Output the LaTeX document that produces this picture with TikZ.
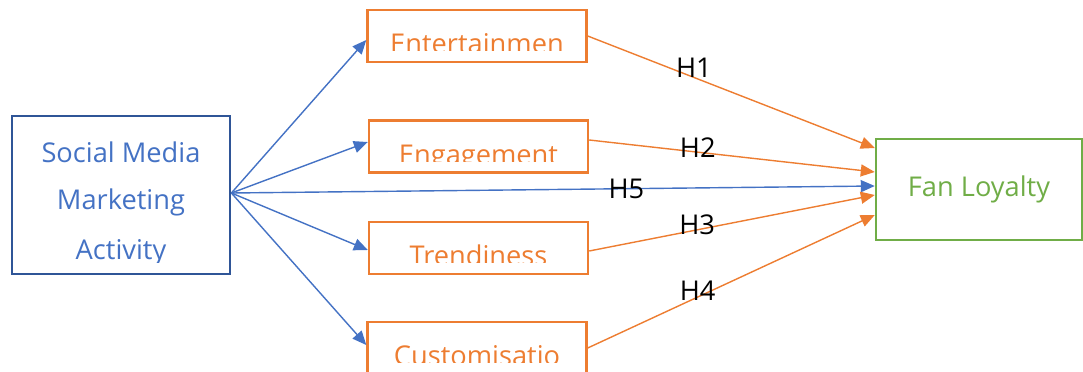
\documentclass[tikz,border=0pt]{standalone}
\usepackage{fontspec}
\setmainfont{Open Sans}
\usetikzlibrary{
    arrows.meta
}
\definecolor{smmablue}{HTML}{4472C4}
\definecolor{smmaedge}{HTML}{2F5597}
\definecolor{factorcol}{HTML}{ED7D31}
\definecolor{loyalcol}{HTML}{70AD47}
\tikzset{
    >={Triangle[length=0.28cm,width=0.24cm]},
    boxtext/.style={
        font=\fontsize{15.5}{20}\selectfont,
        inner sep=0pt
    },
    factor/.style={
        draw=factorcol,
        line width=1.4pt,
        minimum width=4.38cm,
        minimum height=1.04cm,
        path picture={
            \clip ([yshift=0.22cm]path picture bounding box.south west)
                rectangle (path picture bounding box.north east);
            \node[boxtext, text=factorcol, anchor=base]
                at ([yshift=0.16cm]path picture bounding box.south) {#1};
        }
    },
    hyp/.style={
        font=\fontsize{15.5}{18}\selectfont,
        text=black,
        inner sep=0pt
    }
}

\begin{document}
\begin{tikzpicture}[
    x=0.02cm,
    y=-0.02cm
]
    \useasboundingbox (0,0) rectangle (1083,372);

    % Variable independiente
    \node[draw=smmaedge, line width=1.6pt,
          minimum width=4.36cm, minimum height=3.16cm,
          path picture={
            \clip ([yshift=0.22cm]path picture bounding box.south west)
                rectangle (path picture bounding box.north east);
            \node[boxtext, text=smmablue, anchor=base]
                at ([yshift=2.24cm]path picture bounding box.south) {Social Media};
            \node[boxtext, text=smmablue, anchor=base]
                at ([yshift=1.28cm]path picture bounding box.south) {Marketing};
            \node[boxtext, text=smmablue, anchor=base]
                at ([yshift=0.28cm]path picture bounding box.south) {Activity};
          }]                        (smma)  at (121,195)   {};

    % Factores
    \node[factor=Entertainmen]      (ent)   at (477,36)    {};
    \node[factor=Engagement]        (eng)   at (478.5,146.5) {};
    \node[factor=Trendiness]        (trend) at (478.5,248) {};
    \node[factor=Customisatio]      (cust)  at (477,348)   {};

    % Variable dependiente
    \node[draw=loyalcol, line width=1.4pt,
          minimum width=4.12cm, minimum height=2.02cm,
          boxtext, text=loyalcol]   (fan)   at (979,189.5) {Fan Loyalty};

    \coordinate (src) at ([yshift=0.04cm]smma.east);

    % SMMA -> factores y H5
    \path[->, color=smmablue, line width=0.8pt]
        (src)
            edge ([yshift=-0.08cm]ent.west)
            edge ([yshift=0.09cm]eng.west)
            edge ([yshift=-0.04cm]trend.west)
            edge ([yshift=0.06cm]cust.west)
            edge node[hyp, pos=0.614] {H5} ([yshift=0.07cm]fan.west);

    % Factores -> Fan Loyalty
    \path[->, color=factorcol, line width=0.8pt]
        (ent.east)
            edge node[hyp, pos=0.37, yshift=0.19cm] {H1} ([yshift=0.83cm]fan.west)
        ([yshift=0.13cm]eng.east)
            edge node[hyp, pos=0.38, yshift=0.1cm] {H2} ([yshift=0.35cm]fan.west)
        ([yshift=-0.06cm]trend.east)
            edge node[hyp, pos=0.378, yshift=0.1cm] {H3} ([yshift=-0.11cm]fan.west)
        (cust.east)
            edge node[hyp, pos=0.383, yshift=0.12cm] {H4} ([yshift=-0.51cm]fan.west);

\end{tikzpicture}
\end{document}
